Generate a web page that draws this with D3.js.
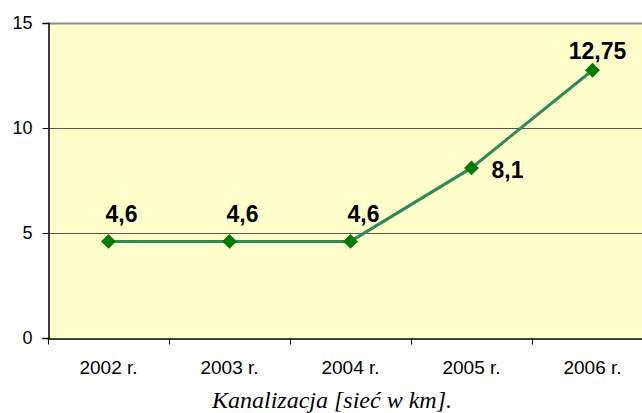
<!DOCTYPE html>
<html>
<head>
<meta charset="utf-8">
<script src="https://cdn.jsdelivr.net/npm/d3@7"></script>
<style>
  body { margin: 0; background: #fff; }
  svg { display: block; }
  .lbl { font-family: Arial, "Liberation Sans", sans-serif; font-size: 23px; font-weight: bold; fill: #000; }
  .title { font-family: "Liberation Serif", "Times New Roman", serif; font-style: italic; font-size: 24px; fill: #000; }
</style>
</head>
<body>
<script>
// data
var years = ["2002 r.", "2003 r.", "2004 r.", "2005 r.", "2006 r."];
var values = [4.6, 4.6, 4.6, 8.1, 12.75];
var labels = ["4,6", "4,6", "4,6", "8,1", "12,75"];
var yTicks = [0, 5, 10, 15];

var width = 642, height = 413;
var margin = {top: 23, left: 48};
var plotW = 605, plotH = 315;

var svg = d3.select("body").append("svg")
    .attr("width", width)
    .attr("height", height);

var xScale = d3.scaleBand()
    .domain(years)
    .range([margin.left, margin.left + plotW]);

var yScale = d3.scaleLinear()
    .domain([0, 15])
    .range([margin.top + plotH, margin.top]);

// plot background
svg.append("rect")
    .attr("x", margin.left)
    .attr("y", margin.top)
    .attr("width", plotW)
    .attr("height", plotH)
    .attr("fill", "#ffffcc");

// gridlines
svg.selectAll(".grid")
    .data(yTicks.filter(d => d > 0))
    .enter()
    .append("line")
    .attr("x1", margin.left)
    .attr("x2", margin.left + plotW)
    .attr("y1", d => yScale(d) + 0.5)
    .attr("y2", d => yScale(d) + 0.5)
    .attr("stroke", d => d == 15 ? "#8c8c8c" : "#5a5a4a")
    .attr("stroke-width", d => d == 15 ? 2 : 1);

// y axis
var yAxis = d3.axisLeft(yScale)
    .tickValues(yTicks)
    .tickSize(6)
    .tickPadding(10);
var gy = svg.append("g")
    .attr("transform", "translate(" + (margin.left + 0.5) + ",0)")
    .call(yAxis)
    .attr("font-size", 18)
    .attr("font-family", "Arial, 'Liberation Sans', sans-serif");
gy.select(".domain").attr("stroke", "#000").attr("stroke-width", 1.5);
gy.selectAll(".tick line").attr("stroke", "#000");

// x axis
var xAxis = d3.axisBottom(xScale)
    .tickSize(0)
    .tickPadding(22);
var gx = svg.append("g")
    .attr("transform", "translate(0," + (margin.top + plotH + 0.5) + ")")
    .call(xAxis)
    .attr("font-size", 19)
    .attr("font-family", "Arial, 'Liberation Sans', sans-serif");
gx.select(".domain").attr("stroke", "#000").attr("stroke-width", 1.5);

// x tick marks between categories
gx.selectAll(".sep")
    .data(years)
    .enter()
    .append("line")
    .attr("x1", d => Math.round(xScale(d)) + 0.5)
    .attr("x2", d => Math.round(xScale(d)) + 0.5)
    .attr("y1", 0)
    .attr("y2", 6)
    .attr("stroke", "#000");

var cx = function(i) { return xScale(years[i]) + xScale.bandwidth() / 2; };

// line
var line = d3.line()
    .x((d, i) => cx(i))
    .y(d => yScale(d));

svg.append("path")
    .datum(values)
    .attr("d", line)
    .attr("fill", "none")
    .attr("stroke", "#2e8b57")
    .attr("stroke-width", 3);

// markers
svg.selectAll(".pt")
    .data(values)
    .enter()
    .append("path")
    .attr("d", d3.symbol().type(d3.symbolDiamond2).size(140))
    .attr("transform", (d, i) => "translate(" + cx(i) + "," + yScale(d) + ")")
    .attr("fill", "#007a00");

// data labels
var lblOffset = [[13, -19], [13, -19], [13, -19], [36, 10], [5, -11]];
svg.selectAll(".lbl")
    .data(values)
    .enter()
    .append("text")
    .attr("class", "lbl")
    .attr("x", (d, i) => cx(i) + lblOffset[i][0])
    .attr("y", (d, i) => yScale(d) + lblOffset[i][1])
    .attr("text-anchor", "middle")
    .text((d, i) => labels[i]);

// title
svg.append("text")
    .attr("class", "title")
    .attr("x", 332)
    .attr("y", 408)
    .attr("text-anchor", "middle")
    .text("Kanalizacja [sieć w km].");
</script>
</body>
</html>
